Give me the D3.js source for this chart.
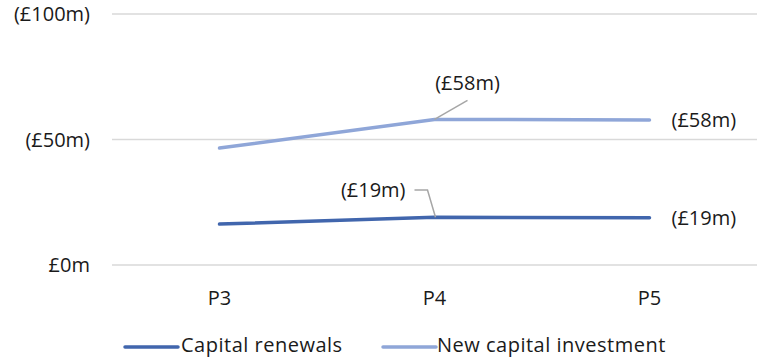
<!DOCTYPE html>
<html><head><meta charset="utf-8">
<script src="https://cdn.jsdelivr.net/npm/d3@7"></script>
<style>
body{margin:0;background:#fff;}
text{font-family:"Open Sans",sans-serif;fill:#1a1a1a;}
</style></head>
<body><svg id="c" width="760" height="357"></svg>
<script>
const categories = ["P3","P4","P5"];
const capitalRenewals = [16.3, 19, 18.8];
const newCapitalInvestment = [46.6, 58, 57.8];
const seriesNames = ["Capital renewals","New capital investment"];
const seriesColors = ["#4166ad","#8fa6d8"];
const yTicks = [0, 50, 100];

const FS = 20;
const svg = d3.select("#c");
const x = d3.scaleBand().domain(categories).range([112, 757]);
const y = d3.scaleLinear().domain([0, 100]).range([265, 14]);
const fmt = v => v === 0 ? "£0m" : `(£${Math.round(v)}m)`;

svg.append("g").selectAll("line").data(yTicks).join("line")
  .attr("x1", 112).attr("x2", 757)
  .attr("y1", d => y(d)).attr("y2", d => y(d))
  .attr("stroke", "#d9d9d9").attr("stroke-width", 1.3);
svg.append("g").selectAll("text").data(yTicks).join("text")
  .attr("x", 90).attr("y", d => y(d) + 7)
  .attr("text-anchor", "end").attr("font-size", FS)
  .text(fmt);
svg.append("g").selectAll("text").data(categories).join("text")
  .attr("x", d => x(d) + x.bandwidth()/2).attr("y", 305)
  .attr("text-anchor", "middle").attr("font-size", FS)
  .text(d => d);

const cx = d => x(d) + x.bandwidth()/2;
const series = [capitalRenewals, newCapitalInvestment];
const line = d3.line().x((d,i) => cx(categories[i])).y(d => y(d));
series.forEach((s, k) => {
  svg.append("path").attr("d", line(s)).attr("fill", "none")
    .attr("stroke", seriesColors[k]).attr("stroke-width", 3.5)
    .attr("stroke-linecap", "round");
});

const p4 = cx("P4"), p5 = cx("P5");
svg.append("polyline").attr("points", `${p4},${y(newCapitalInvestment[1])} ${p4+33},${y(newCapitalInvestment[1])-19}`)
  .attr("fill","none").attr("stroke","#a6a6a6").attr("stroke-width",1.5);
svg.append("text").attr("x", p4+33).attr("y", 90).attr("text-anchor","middle").attr("font-size",FS)
  .text(fmt(newCapitalInvestment[1]));
svg.append("text").attr("x", p5+22).attr("y", y(newCapitalInvestment[2])+7).attr("font-size",FS)
  .text(fmt(newCapitalInvestment[2]));
svg.append("polyline").attr("points", `${p4-20},${190} ${p4-7},${190} ${p4+1},${y(capitalRenewals[1])}`)
  .attr("fill","none").attr("stroke","#a6a6a6").attr("stroke-width",1.5);
svg.append("text").attr("x", p4-29).attr("y", 197).attr("text-anchor","end").attr("font-size",FS)
  .text(fmt(capitalRenewals[1]));
svg.append("text").attr("x", p5+22).attr("y", y(capitalRenewals[2])+7).attr("font-size",FS)
  .text(fmt(capitalRenewals[2]));

const leg = [{x:125, tx:181},{x:383, tx:437}];
leg.forEach((l,k) => {
  svg.append("line").attr("x1", l.x).attr("x2", l.x+53).attr("y1", 347).attr("y2", 347)
    .attr("stroke", seriesColors[k]).attr("stroke-width", 3.5).attr("stroke-linecap","round");
  svg.append("text").attr("x", l.tx).attr("y", 352).attr("font-size", FS)
    .attr("letter-spacing", 0.5).text(seriesNames[k]);
});
</script></body></html>
